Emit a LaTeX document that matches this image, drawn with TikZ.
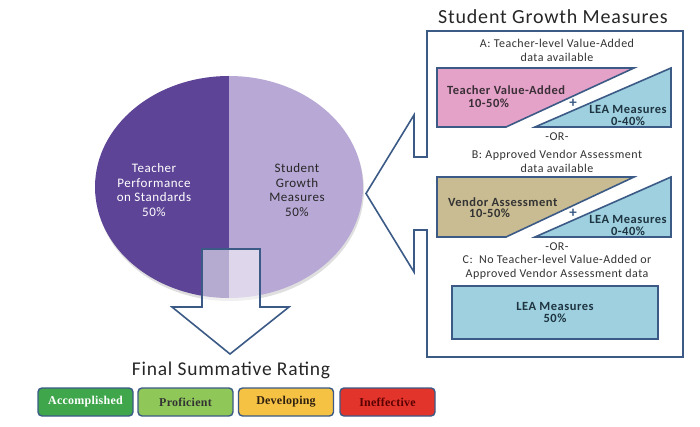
\documentclass[tikz,border=0pt]{standalone}
\usepackage{fontspec}
\setmainfont{Carlito}[LetterSpace=4]
\newfontfamily\ratefont{Liberation Serif}[LetterSpace=2]
\definecolor{pdark}{HTML}{5D4496}
\definecolor{plight}{HTML}{B8A8D6}
\definecolor{lineblue}{HTML}{3B5A86}
\definecolor{pinkf}{HTML}{E4A2C8}
\definecolor{tanf}{HTML}{C9BC92}
\definecolor{bluef}{HTML}{9ED0E0}
\definecolor{rgreen}{HTML}{3FA64C}
\definecolor{rlgreen}{HTML}{8FC759}
\definecolor{ryellow}{HTML}{F5C244}
\definecolor{rred}{HTML}{E2342B}
\definecolor{txtdark}{HTML}{3A2E36}
\definecolor{leatxt}{HTML}{1E3440}
\begin{document}
\begin{tikzpicture}[x=1pt,y=-1pt,
  outl/.style={draw=lineblue, line width=1.6pt, line join=miter},
  small/.style={font=\fontsize{12}{13.8}\selectfont, text=black!80, align=center, inner sep=0pt},
  boxtxt/.style={font=\bfseries\fontsize{12.5}{13}\selectfont, inner sep=0pt},
  rate/.style={draw=lineblue, line width=1.4pt, rounded corners=4pt, minimum width=95pt, minimum height=28pt, inner sep=0pt, font=\ratefont\bfseries\fontsize{12}{12}\selectfont},
]
\useasboundingbox (0,0) rectangle (700,427);
% pie shadow
\fill[black!25, opacity=0.5] (230,190) ellipse [x radius=134, y radius=111];
% pie
\begin{scope}
  \clip (0,0) rectangle (229,427);
  \fill[pdark] (229,187) ellipse [x radius=134, y radius=111];
\end{scope}
\begin{scope}
  \clip (229,0) rectangle (700,427);
  \fill[plight] (229,187) ellipse [x radius=134, y radius=111];
\end{scope}
\node[font=\fontsize{13}{14.5}\selectfont, text=white, align=center, inner sep=0pt] (pieL) at (154,190) {Teacher\\Performance\\on Standards\\50\%};
\node[font=\fontsize{13}{14.5}\selectfont, text=black!85, align=center, inner sep=0pt] (pieR) at (297,190) {Student\\Growth\\Measures\\50\%};
% down arrow
\path[outl, fill=white, fill opacity=0.55] (202,249) -- (260,249) -- (260,307) -- (289,307) -- (230,354) -- (172,307) -- (202,307) -- cycle;
\node[font=\fontsize{19.5}{22}\selectfont, text=black!85, inner sep=0pt] (final) at (231,370) {Final Summative Rating};
% rating boxes
\node[rate, fill=rgreen, text=white] (acc) at (85.5,402) {Accomplished};
\node[rate, fill=rlgreen, text=black!80] (pro) at (185.5,402) {Proficient};
\node[rate, fill=ryellow, text=black!75!brown] (dev) at (286,402) {Developing};
\node[rate, fill=rred, text=black!65!red] (ine) at (387.5,402) {Ineffective};
% title
\node[font=\fontsize{20}{22}\selectfont, text=black!85, inner sep=0pt] (title) at (553,17) {Student Growth Measures};
% callout box
\path[outl, fill=white] (427,31) -- (683,31) -- (683,357) -- (427,357) -- (427,230) -- (414,230) -- (414,272) -- (366,193.5) -- (414,115) -- (414,157) -- (427,157) -- cycle;
% A
\node[small] (atxt) at (557,50) {A: Teacher-level Value-Added\\data available};
\path[outl, fill=pinkf] (437,68) -- (634,68) -- (506,127) -- (437,127) -- cycle;
\path[outl, fill=bluef] (535,127) -- (671,127) -- (671,68) -- cycle;
\node[boxtxt, text=txtdark, anchor=west] (tva) at (447,90) {Teacher Value-Added};
\node[boxtxt, text=txtdark, anchor=west] (tvap) at (468,103) {10-50\%};
\node[boxtxt, text=lineblue, font=\bfseries\fontsize{15}{15}\selectfont] (plus1) at (573,103) {+};
\node[boxtxt, text=leatxt] (lea1) at (628,109) {LEA Measures};
\node[boxtxt, text=leatxt] (lea1p) at (628,121.5) {0-40\%};
\node[small] (or1) at (557,137) {-OR-};
% B
\node[small] (btxt) at (557,161) {B: Approved Vendor Assessment\\data available};
\path[outl, fill=tanf] (437,177) -- (634,177) -- (506,237) -- (437,237) -- cycle;
\path[outl, fill=bluef] (535,237) -- (671,237) -- (671,177) -- cycle;
\node[boxtxt, text=black!80, anchor=west] (va) at (448,202) {Vendor Assessment};
\node[boxtxt, text=black!80, anchor=west] (vap) at (469,213.5) {10-50\%};
\node[boxtxt, text=lineblue, font=\bfseries\fontsize{15}{15}\selectfont] (plus2) at (573,213) {+};
\node[boxtxt, text=leatxt] (lea2) at (628,219) {LEA Measures};
\node[boxtxt, text=leatxt] (lea2p) at (628,231) {0-40\%};
\node[small] (or2) at (557,247) {-OR-};
% C
\node[small] (ctxt) at (557,267.5) {C:\ \ No Teacher-level Value-Added or\\Approved Vendor Assessment data};
\path[outl, fill=bluef] (452,286) rectangle (658,339);
\node[boxtxt, text=leatxt, align=center, font=\bfseries\fontsize{12.5}{12}\selectfont] (lea3) at (555,312.5) {LEA Measures\\50\%};
\end{tikzpicture}
\end{document}
